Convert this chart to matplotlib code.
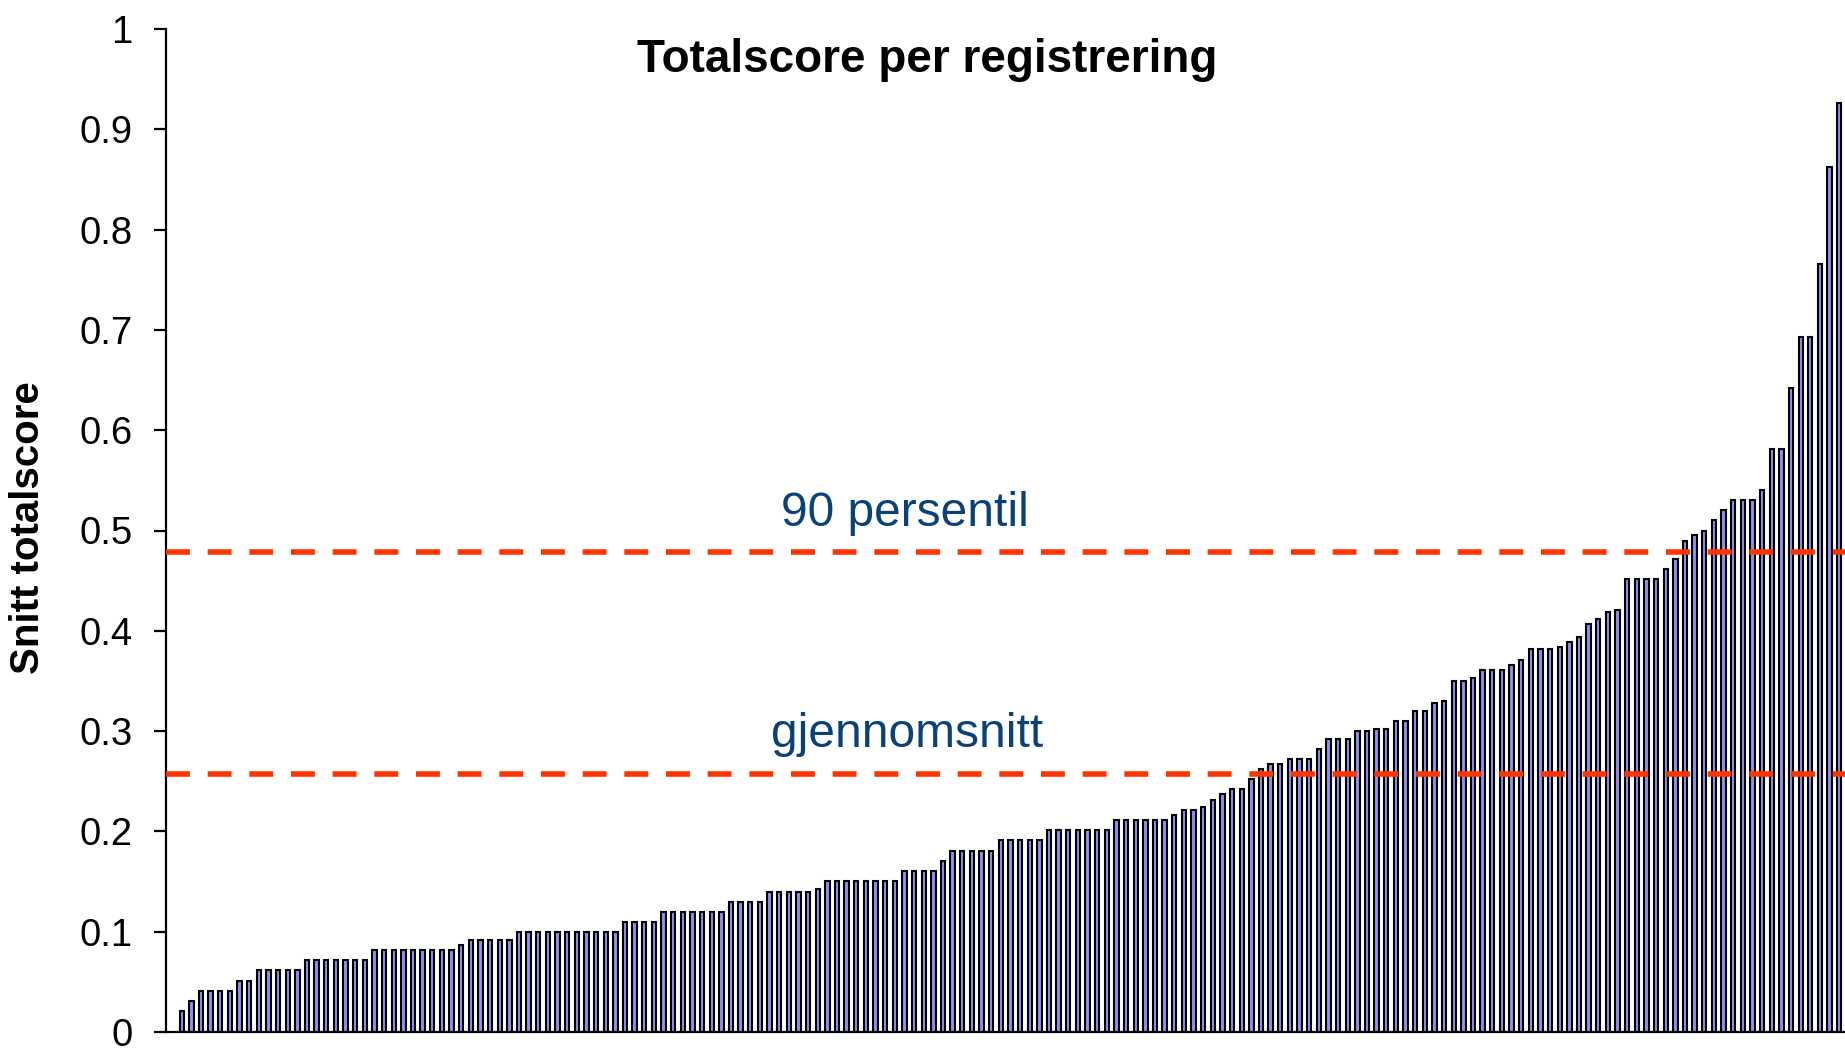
import matplotlib
matplotlib.use('Agg')
import matplotlib.pyplot as plt
import numpy as np

plt.rcParams['font.family'] = ['Liberation Sans', 'DejaVu Sans']

# ── Data ──────────────────────────────────────────────────────────────────────

scores = [
    0.021, 0.031, 0.041, 0.041, 0.041, 0.041, 0.051, 0.051,
    0.062, 0.062, 0.062, 0.062, 0.062,
    0.072, 0.072, 0.072, 0.072, 0.072, 0.072, 0.072,
    0.082, 0.082, 0.082, 0.082, 0.082, 0.082, 0.082, 0.082, 0.082,
    0.087,
    0.092, 0.092, 0.092, 0.092, 0.092,
    0.100, 0.100, 0.100, 0.100, 0.100, 0.100, 0.100, 0.100, 0.100, 0.100, 0.100,
    0.110, 0.110, 0.110, 0.110,
    0.120, 0.120, 0.120, 0.120, 0.120, 0.120, 0.120,
    0.130, 0.130, 0.130, 0.130,
    0.140, 0.140, 0.140, 0.140, 0.140,
    0.143,
    0.151, 0.151, 0.151, 0.151, 0.151, 0.151, 0.151, 0.151,
    0.161, 0.161, 0.161, 0.161,
    0.170,
    0.180, 0.180, 0.180, 0.180, 0.180,
    0.191, 0.191, 0.191, 0.191, 0.191,
    0.201, 0.201, 0.201, 0.201, 0.201, 0.201, 0.201,
    0.211, 0.211, 0.211, 0.211, 0.211, 0.211,
    0.216, 0.221, 0.221, 0.224, 0.231, 0.237, 0.242, 0.242,
    0.252, 0.262, 0.267, 0.267, 0.272, 0.272, 0.272, 0.282,
    0.292, 0.292, 0.292, 0.300, 0.300, 0.302, 0.302,
    0.310, 0.310, 0.320, 0.320, 0.328, 0.330,
    0.350, 0.350, 0.353, 0.361, 0.361, 0.361, 0.366, 0.371,
    0.382, 0.382, 0.382, 0.384, 0.389, 0.394,
    0.407, 0.412, 0.419, 0.421,
    0.452, 0.452, 0.452, 0.452, 0.462, 0.472,
    0.490, 0.496, 0.500, 0.510, 0.520, 0.530, 0.530, 0.530, 0.540,
    0.581, 0.581, 0.642, 0.693, 0.693, 0.766, 0.862, 0.926,
]

mean_score = 0.257
p90_score = 0.479

yticks = [0, 0.1, 0.2, 0.3, 0.4, 0.5, 0.6, 0.7, 0.8, 0.9, 1]
ytick_labels = ['0', '0.1', '0.2', '0.3', '0.4', '0.5', '0.6', '0.7', '0.8', '0.9', '1']

# ── Plot ──────────────────────────────────────────────────────────────────────

W, H = 1845, 1048
fig = plt.figure(figsize=(W / 100, H / 100), dpi=100)
ax = fig.add_axes([166 / W, 1 - 1032 / H, 1 - 166 / W, (1032 - 29) / H])

x = np.arange(len(scores))
ax.bar(x, scores, width=0.45, color='#8f8ff0', edgecolor='black',
       linewidth=1.5, zorder=2)

line_kw = dict(color='#ff3300', linewidth=4, dashes=(4.3, 3.2),
               dash_capstyle='butt', zorder=3)
ax.axhline(p90_score, **line_kw)
ax.axhline(mean_score, **line_kw)

ax.text(75, 0.504, '90 persentil', ha='center', va='baseline',
        fontsize=34.5, color='#0b4275', zorder=4)
ax.text(75.3, 0.284, 'gjennomsnitt', ha='center', va='baseline',
        fontsize=34.5, color='#0b4275', zorder=4)

ax.set_xlim(-1.63, 172.6)
ax.set_ylim(0, 1)
ax.set_xticks([])
ax.set_yticks(yticks)
ax.set_yticklabels(ytick_labels)
ax.tick_params(axis='y', direction='out', length=9, width=1.6,
               labelsize=27.5, pad=15)

for side in ['top', 'right']:
    ax.spines[side].set_visible(False)
for side in ['left', 'bottom']:
    ax.spines[side].set_linewidth(1.6)

fig.text(926.7 / W, 1 - 60 / H, 'Totalscore per registrering',
         ha='center', va='center', fontsize=33, fontweight='bold')
fig.text(28 / W, 1 - 528 / H, 'Snitt totalscore', rotation=90,
         ha='center', va='center', fontsize=29, fontweight='bold')

plt.savefig('out.png', dpi=100)
plt.close()
